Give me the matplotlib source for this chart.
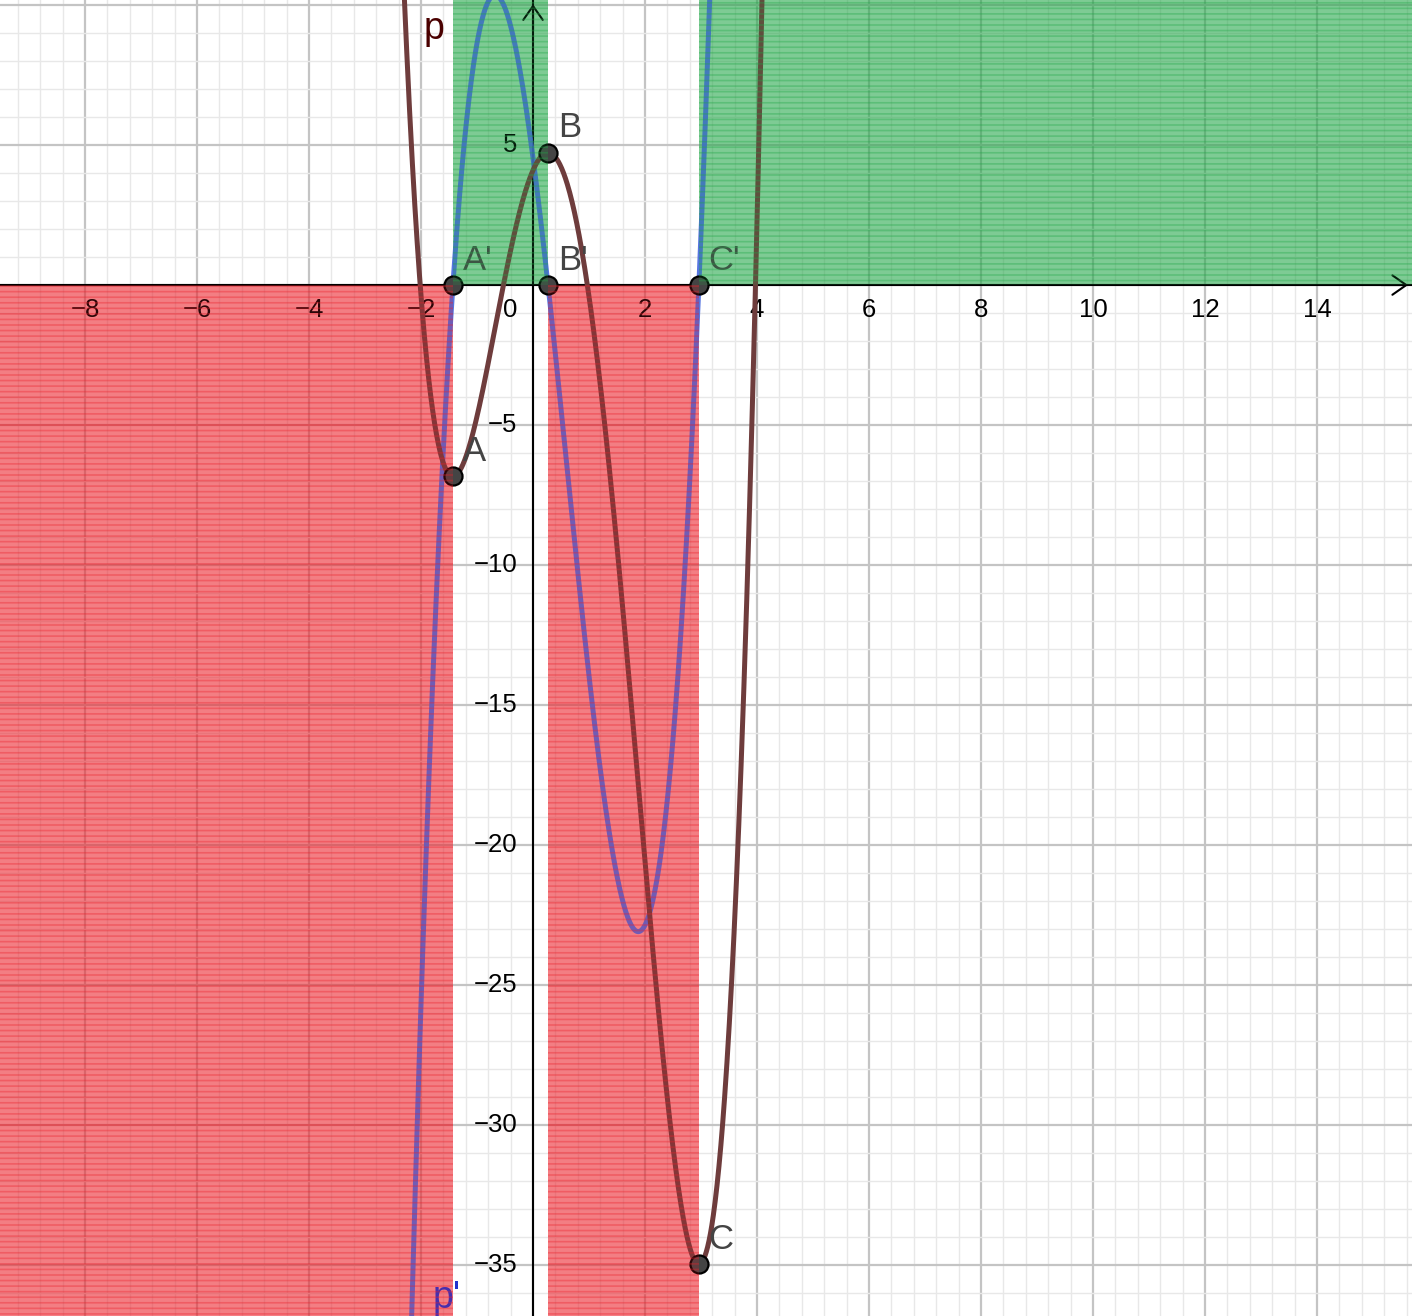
import numpy as np
import matplotlib
matplotlib.use('Agg')
import matplotlib.pyplot as plt

# polynomial p (highest power first)
p_coeffs = [1.0, -2.4, -7.65, 4.54, 4.1]
# x of the extrema of p = zeros of p'
crit_x = [-1.43, 0.268, 2.964]
crit_names = ['A', 'B', 'C']
zero_names = ["A'", "B'", "C'"]

x_ticks = [-8, -6, -4, -2, 2, 4, 6, 8, 10, 12, 14]
y_ticks = [5, -5, -10, -15, -20, -25, -30, -35]

xmin, xmax = -9.518, 15.696
ymin, ymax = -36.82, 10.18

brown = '#6e3c3c'
blue = '#4466dd'
red = (0.92, 0.12, 0.16)
green = (0.12, 0.65, 0.27)

plt.rcParams['font.family'] = ['Liberation Sans', 'DejaVu Sans']
plt.rcParams['hatch.linewidth'] = 1.2

fig = plt.figure(figsize=(14.12, 13.16), dpi=100)
ax = fig.add_axes([0, 0, 1, 1])
ax.set_xlim(xmin, xmax)
ax.set_ylim(ymin, ymax)
for s in ax.spines.values():
    s.set_visible(False)

# grid
ax.set_xticks(np.arange(-8, 16, 2))
ax.set_xticks(np.arange(-9.2, 15.7, 0.4), minor=True)
ax.set_yticks(np.arange(-35, 11, 5))
ax.set_yticks(np.arange(-36, 11, 1), minor=True)
ax.grid(which='major', color='#c4c4c4', lw=1.6, zorder=0)
ax.grid(which='minor', color='#e8e8e8', lw=1.0, zorder=0)
ax.tick_params(which='both', length=0, labelbottom=False, labelleft=False)
ax.set_axisbelow(True)

# axes with arrows
ax.plot([xmin, xmax], [0, 0], color='black', lw=1.5, zorder=2)
ax.plot([0, 0], [ymin, ymax], color='black', lw=1.5, zorder=2)
ax.annotate('', xy=(xmax - 0.02, 0), xytext=(xmax - 0.6, 0),
            arrowprops=dict(arrowstyle='->,head_length=0.5,head_width=0.35',
                            lw=1.5, color='black', mutation_scale=20), zorder=2)
ax.annotate('', xy=(0, ymax - 0.05), xytext=(0, ymax - 1.2),
            arrowprops=dict(arrowstyle='->,head_length=0.5,head_width=0.35',
                            lw=1.5, color='black', mutation_scale=20), zorder=2)

# tick labels
for x in x_ticks:
    ax.annotate(str(x).replace('-', '\u2212'), (x, 0), xytext=(0, -18),
                textcoords='offset points', ha='center', va='center',
                fontsize=18.5, color='black', zorder=3)
for y in y_ticks:
    ax.annotate(str(y).replace('-', '\u2212'), (0, y), xytext=(-11.5, 0),
                textcoords='offset points', ha='right', va='center',
                fontsize=18.5, color='black', zorder=3)
ax.annotate('0', (0, 0), xytext=(-16.5, -18), textcoords='offset points',
            ha='center', va='center', fontsize=18.5, color='black', zorder=3)

# sign regions of p'
dp = np.polyder(p_coeffs)
edges = [xmin] + crit_x + [xmax]
for x0, x1 in zip(edges[:-1], edges[1:]):
    mid = 0.5 * (x0 + x1)
    if np.polyval(dp, mid) > 0:
        c, y0, y1 = green, 0, ymax
    else:
        c, y0, y1 = red, ymin, 0
    ax.fill_between([x0, x1], y0, y1, facecolor=c + (0.48,), lw=0, zorder=1.5)
    ax.fill_between([x0, x1], y0, y1, facecolor=c + (0.18,),
                    edgecolor=c + (0.35,), hatch='---', lw=0, zorder=8)

# curves
xs = np.linspace(xmin, xmax, 3000)
ax.plot(xs, np.polyval(dp, xs), color=blue, lw=3.6, alpha=0.9, zorder=5)
ax.plot(xs, np.polyval(p_coeffs, xs), color=brown, lw=3.6, zorder=6)

# points and labels
for xc, n1, n2 in zip(crit_x, crit_names, zero_names):
    yc = np.polyval(p_coeffs, xc)
    for (px, py, name) in [(xc, yc, n1), (xc, 0, n2)]:
        ax.plot(px, py, 'o', ms=13, mfc='#444444', mec='black', mew=1.6, zorder=7)
        ax.annotate(name, (px, py), xytext=(7, 11), textcoords='offset points',
                    ha='left', va='baseline', fontsize=25, color='#444444', zorder=7)

ax.text(-1.77, 8.8, 'p', fontsize=27, color='#4a0000', ha='center', va='baseline', zorder=7)
ax.text(-1.55, -36.55, "p'", fontsize=27, color='#2233cc', ha='center', va='baseline', zorder=7)

fig.savefig('out.png', dpi=100)
